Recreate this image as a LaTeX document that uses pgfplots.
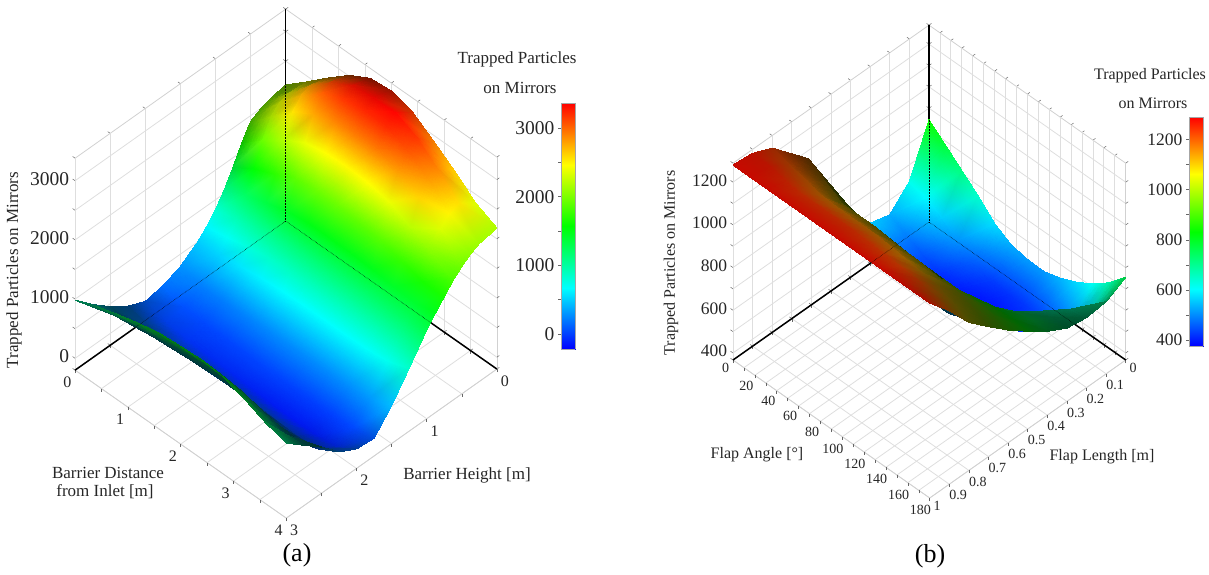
\documentclass[border=0pt]{standalone}
\usepackage{fontspec}
\setmainfont{Liberation Serif}
\usepackage{pgfplots}
\pgfplotsset{compat=1.18}
\definecolor{txt}{gray}{0.15}
\pgfplotsset{
 chart/.style={clip=false,axis lines=box,grid=major,
  grid style={line width=.8pt,black!13},
  axis line style={line width=.8pt,black!18},
  tick style={black!60,line width=.5pt},major tick length=3pt,
  tick align=outside,xtick pos=left,ytick pos=left,ztick pos=left,
  xticklabel pos=left,yticklabel pos=left,
  every tick label/.append style={text=txt}},
 barc/.style={scale only axis,width=14pt,xmin=0,xmax=1,xtick=\empty,view={0}{90},
  ytick pos=left,tick align=outside,major tick length=3pt,
  tick style={black!60,line width=.5pt},axis line style={line width=.6pt,black!35},
  every tick label/.append style={text=txt},
  yticklabel style={font=\fontsize{19.5}{20}\selectfont},
  colormap={bb}{rgb(0cm)=(0,0,1); rgb(1cm)=(0,1,1); rgb(2cm)=(0,1,0); rgb(3cm)=(1,1,0); rgb(4cm)=(1,0,0)}}
}
\begin{document}
\begin{tikzpicture}[x=1pt,y=1pt,
  declare function={clipo(\v)=min(1,max(0,\v));
   cR(\n)=clipo(4*\n-2);
   cG(\n)=min(clipo(4*\n),clipo(4-4*\n));
   cB(\n)=clipo(2-4*\n);}]
\path[use as bounding box] (0,0) rectangle (1209,574);
% ---------------- (a)
\begin{axis}[chart,anchor=origin,at={(285.7pt,364.8pt)},
  x={(-70.2pt,-49.7pt)},y={(52.8pt,-37pt)},z={(0pt,0.0592pt)},
  xmin=0,xmax=3,ymin=0,ymax=4,zmin=-200,zmax=3380,
  xtick={0,0.5,...,3},xticklabels={0,,1,,2,,3},
  ytick={0,0.5,...,4},yticklabels={0,,1,,2,,3,,4},
  ztick={0,500,...,3000},zticklabels={0,,1000,,2000,,3000},
  xticklabel style={font=\fontsize{16}{16}\selectfont},
  yticklabel style={font=\fontsize{16}{16}\selectfont},
  zticklabel style={font=\fontsize{19.5}{20}\selectfont}]
\draw[black,line width=1.5pt] (axis cs:3,0,-200)--(axis cs:0,0,-200)--(axis cs:0,4,-200);
\draw[black,line width=1.5pt] (axis cs:0,0,-200)--(axis cs:0,0,3380);
\addplot3[surf,shader=interp,z buffer=sort,mesh/cols=17,
  mesh/color input=explicit mathparse,
  point meta={symbolic={
   \thisrow{s}*cR((\thisrow{z}+220)/3584),
   \thisrow{s}*cG((\thisrow{z}+220)/3584),
   \thisrow{s}*cB((\thisrow{z}+220)/3584)}}]
 table[row sep=\\]{x y z s\\
0 0 2097 .5\\.25 0 2040 .6\\.375 0 1980 .62\\.5 0 1900 .65\\.625 0 1640 .75\\.75 0 1337 .85\\.875 0 1060 .95\\1 0 830 1\\1.125 0 650 1\\1.25 0 500 1\\1.5 0 290 1\\1.75 0 170 1\\2 0 120 .75\\2.25 0 250 .45\\2.5 0 450 .35\\2.75 0 700 .4\\3 0 982 .5\\
0 .4 2400 .45\\.25 .4 2420 .7\\.375 .4 2380 .78\\.5 .4 2250 .85\\.625 .4 1950 1\\.75 .4 1560 1\\.875 .4 1220 1\\1 .4 940 1\\1.125 .4 710 1\\1.25 .4 520 1\\1.5 .4 230 1\\1.75 .4 60 1\\2 .4 20 .9\\2.25 .4 170 .55\\2.5 .4 420 .3\\2.75 .4 770 .3\\3 .4 1130 .5\\
0 .8 2716 .4\\.25 .8 2800 .8\\.375 .8 2740 .95\\.5 .8 2560 1\\.625 .8 2200 1\\.75 .8 1720 1\\.875 .8 1340 1\\1 .8 1040 1\\1.125 .8 800 1\\1.25 .8 590 1\\1.5 .8 220 1\\1.75 .8 30 1\\2 .8 -30 .95\\2.25 .8 140 .6\\2.5 .8 450 .25\\2.75 .8 860 .3\\3 .8 1240 .5\\
0 1.2 3010 .4\\.25 1.2 3110 .8\\.375 1.2 3030 1\\.5 1.2 2780 1\\.625 1.2 2400 1\\.75 1.2 1900 1\\.875 1.2 1450 1\\1 1.2 1110 1\\1.125 1.2 860 1\\1.25 1.2 640 1\\1.5 1.2 240 1\\1.75 1.2 20 1\\2 1.2 -60 .95\\2.25 1.2 130 .6\\2.5 1.2 480 .25\\2.75 1.2 920 .3\\3 1.2 1340 .5\\
0 1.6 3210 .45\\.25 1.6 3300 .85\\.375 1.6 3180 1\\.5 1.6 2900 1\\.625 1.6 2470 1\\.75 1.6 1950 1\\.875 1.6 1500 1\\1 1.6 1150 1\\1.125 1.6 890 1\\1.25 1.6 670 1\\1.5 1.6 260 1\\1.75 1.6 20 1\\2 1.6 -80 .95\\2.25 1.6 120 .6\\2.5 1.6 510 .25\\2.75 1.6 980 .3\\3 1.6 1420 .5\\
0 2 3246 .6\\.25 2 3340 .9\\.375 2 3230 1\\.5 2 2950 1\\.625 2 2490 1\\.75 2 1950 1\\.875 2 1500 1\\1 2 1170 1\\1.125 2 910 1\\1.25 2 680 1\\1.5 2 270 1\\1.75 2 20 1\\2 2 -100 .95\\2.25 2 110 .6\\2.5 2 530 .25\\2.75 2 1020 .3\\3 2 1450 .5\\
0 2.4 3140 .8\\.25 2.4 3350 1\\.375 2.4 3230 1\\.5 2.4 2950 1\\.625 2.4 2470 1\\.75 2.4 1900 1\\.875 2.4 1490 1\\1 2.4 1180 1\\1.125 2.4 910 1\\1.25 2.4 680 1\\1.5 2.4 270 1\\1.75 2.4 10 1\\2 2.4 -120 .95\\2.25 2.4 100 .6\\2.5 2.4 530 .25\\2.75 2.4 1040 .3\\3 2.4 1470 .5\\
0 2.8 2900 .95\\.25 2.8 3180 1\\.375 2.8 3080 1\\.5 2.8 2830 1\\.625 2.8 2400 1\\.75 2.8 1880 1\\.875 2.8 1480 1\\1 2.8 1180 1\\1.125 2.8 920 1\\1.25 2.8 680 1\\1.5 2.8 270 1\\1.75 2.8 0 1\\2 2.8 -130 .95\\2.25 2.8 80 .6\\2.5 2.8 490 .25\\2.75 2.8 1000 .3\\3 2.8 1440 .5\\
0 3.2 2640 1\\.25 3.2 2900 1\\.375 3.2 2820 1\\.5 3.2 2620 1\\.625 3.2 2220 1\\.75 3.2 1750 1\\.875 3.2 1430 1\\1 3.2 1190 1\\1.125 3.2 930 1\\1.25 3.2 690 1\\1.5 3.2 280 1\\1.75 3.2 0 1\\2 3.2 -120 .9\\2.25 3.2 60 .55\\2.5 3.2 430 .25\\2.75 3.2 890 .3\\3 3.2 1320 .5\\
0 3.6 2350 1\\.25 3.6 2570 1\\.375 3.6 2500 1\\.5 3.6 2340 1\\.625 3.6 2030 1\\.75 3.6 1650 1\\.875 3.6 1410 1\\1 3.6 1210 1\\1.125 3.6 970 1\\1.25 3.6 730 1\\1.5 3.6 320 1\\1.75 3.6 30 1\\2 3.6 -70 .8\\2.25 3.6 90 .5\\2.5 3.6 410 .22\\2.75 3.6 770 .28\\3 3.6 1170 .5\\
0 4 2180 1\\.25 4 2130 1\\.375 4 2060 1\\.5 4 1950 1\\.625 4 1820 1\\.75 4 1650 1\\.875 4 1480 1\\1 4 1300 1\\1.125 4 1080 1\\1.25 4 860 1\\1.5 4 440 1\\1.75 4 100 .85\\2 4 130 .6\\2.25 4 290 .45\\2.5 4 580 .2\\2.75 4 820 .25\\3 4 1067 .5\\
};
\draw[black,densely dotted,line width=.5pt] (axis cs:3,0,-200)--(axis cs:0,0,-200)--(axis cs:0,4,-200);
\draw[black,densely dotted,line width=.5pt] (axis cs:0,0,-200)--(axis cs:0,0,2090);
\end{axis}
% colourbar (a)
\begin{axis}[barc,anchor=south west,at={(561pt,225pt)},height=246pt,ymin=-220,ymax=3364,
  ytick={0,500,...,3000},yticklabels={0,,1000,,2000,,3000}]
\addplot3[surf,shader=interp,mesh/cols=2] coordinates {
 (0,-220,-220)(1,-220,-220)(0,676,676)(1,676,676)(0,1572,1572)(1,1572,1572)(0,2468,2468)(1,2468,2468)(0,3364,3364)(1,3364,3364)};
\end{axis}
% ---------------- (b)
\begin{axis}[chart,anchor=origin,at={(929pt,352pt)},
  x={(-196pt,-138pt)},y={(1.0928pt,-0.7667pt)},z={(0pt,0.2135pt)},
  xmin=0,xmax=1,ymin=0,ymax=180,zmin=367,zmax=1289,
  xtick={0,0.1,...,1.01},xticklabels={0,0.1,0.2,0.3,0.4,0.5,0.6,0.7,0.8,0.9,1},
  ytick={0,10,...,180},yticklabels={0,,20,,40,,60,,80,,100,,120,,140,,160,,180},
  ztick={400,500,...,1200},zticklabels={400,,600,,800,,1000,,1200},
  xticklabel style={font=\fontsize{14}{14}\selectfont,yshift=3pt},
  yticklabel style={font=\fontsize{14}{14}\selectfont,yshift=3pt},
  zticklabel style={font=\fontsize{17.5}{18}\selectfont}]
\draw[black,line width=1.5pt] (axis cs:1,0,367)--(axis cs:0,0,367)--(axis cs:0,180,367);
\draw[black,line width=1.5pt] (axis cs:0,0,367)--(axis cs:0,0,1289);
\addplot3[surf,shader=interp,z buffer=sort,mesh/cols=11,
  mesh/color input=explicit mathparse,
  point meta={symbolic={
   \thisrow{s}*cR((\thisrow{z}-376)/914),
   \thisrow{s}*cG((\thisrow{z}-376)/914),
   \thisrow{s}*cB((\thisrow{z}-376)/914)}}]
 table[row sep=\\]{x y z s\\
0 0 845 1\\.1 0 620 1\\.2 0 530 1\\.3 0 555 1\\.4 0 640 1\\.5 0 780 .3\\.6 0 950 .2\\.7 0 1130 .3\\.8 0 1230 .6\\.9 0 1270 .72\\1 0 1280 .78\\
0 15 780 1\\.1 15 600 1\\.2 15 490 1\\.3 15 490 1\\.4 15 570 1\\.5 15 740 .3\\.6 15 970 .2\\.7 15 1170 .3\\.8 15 1210 .6\\.9 15 1265 .72\\1 15 1280 .78\\
0 30 715 1\\.1 30 560 1\\.2 30 450 1\\.3 30 440 1\\.4 30 520 1\\.5 30 710 .3\\.6 30 960 .2\\.7 30 1120 .3\\.8 30 1190 .6\\.9 30 1250 .72\\1 30 1280 .78\\
0 45 650 1\\.1 45 510 1\\.2 45 420 1\\.3 45 410 1\\.4 45 520 1\\.5 45 680 .3\\.6 45 930 .2\\.7 45 1070 .3\\.8 45 1170 .6\\.9 45 1240 .72\\1 45 1280 .78\\
0 60 575 1\\.1 60 460 1\\.2 60 400 1\\.3 60 395 .6\\.4 60 520 .6\\.5 60 665 .3\\.6 60 930 .2\\.7 60 1070 .3\\.8 60 1165 .6\\.9 60 1240 .72\\1 60 1280 .78\\
0 75 530 1\\.1 75 430 1\\.2 75 385 1\\.3 75 425 .3\\.4 75 520 .3\\.5 75 655 .3\\.6 75 930 .2\\.7 75 1070 .3\\.8 75 1165 .6\\.9 75 1240 .72\\1 75 1280 .78\\
0 90 515 1\\.1 90 420 1\\.2 90 380 1\\.3 90 440 .3\\.4 90 520 .3\\.5 90 650 .3\\.6 90 925 .2\\.7 90 1060 .3\\.8 90 1165 .6\\.9 90 1240 .72\\1 90 1280 .78\\
0 105 512 1\\.1 105 425 1\\.2 105 385 1\\.3 105 460 .3\\.4 105 565 .35\\.5 105 675 .35\\.6 105 920 .2\\.7 105 1055 .3\\.8 105 1160 .6\\.9 105 1235 .72\\1 105 1280 .78\\
0 120 535 1\\.1 120 440 1\\.2 120 415 1\\.3 120 495 .5\\.4 120 590 .45\\.5 120 700 .35\\.6 120 920 .2\\.7 120 1050 .3\\.8 120 1150 .6\\.9 120 1230 .72\\1 120 1280 .78\\
0 135 570 1\\.1 135 470 1\\.2 135 490 .9\\.3 135 560 .7\\.4 135 660 .6\\.5 135 790 .45\\.6 135 920 .35\\.7 135 1040 .3\\.8 135 1140 .5\\.9 135 1225 .7\\1 135 1280 .78\\
0 150 615 1\\.1 150 520 .9\\.2 150 600 .6\\.3 150 680 .4\\.4 150 745 .4\\.5 150 830 .4\\.6 150 925 .35\\.7 150 1040 .3\\.8 150 1130 .4\\.9 150 1220 .6\\1 150 1280 .75\\
0 165 675 .95\\.1 165 600 .7\\.2 165 680 .45\\.3 165 705 .35\\.4 165 760 .4\\.5 165 830 .4\\.6 165 915 .35\\.7 165 1010 .3\\.8 165 1100 .35\\.9 165 1200 .5\\1 165 1280 .7\\
0 180 755 .8\\.1 180 705 .5\\.2 180 695 .35\\.3 180 710 .3\\.4 180 760 .35\\.5 180 825 .4\\.6 180 895 .35\\.7 180 976 .3\\.8 180 1060 .3\\.9 180 1180 .45\\1 180 1280 .7\\
};
\draw[black,densely dotted,line width=.5pt] (axis cs:1,0,367)--(axis cs:0,0,367)--(axis cs:0,180,367);
\draw[black,densely dotted,line width=.5pt] (axis cs:0,0,367)--(axis cs:0,0,845);
\end{axis}
% colourbar (b)
\begin{axis}[barc,anchor=south west,at={(1189pt,228pt)},height=229pt,ymin=376,ymax=1290,
  ytick={400,500,...,1200},yticklabels={400,,600,,800,,1000,,1200},
  yticklabel style={font=\fontsize{17.5}{18}\selectfont}]
\addplot3[surf,shader=interp,mesh/cols=2] coordinates {
 (0,376,376)(1,376,376)(0,604.5,604.5)(1,604.5,604.5)(0,833,833)(1,833,833)(0,1061.5,1061.5)(1,1061.5,1061.5)(0,1290,1290)(1,1290,1290)};
\end{axis}
% ---------------- text
\tikzset{lab/.style={text=txt,inner sep=0pt,font=\fontsize{17}{17}\selectfont},
 labb/.style={text=txt,inner sep=0pt,font=\fontsize{16}{16}\selectfont}}
\node[lab,rotate=90] at (14,304) {Trapped Particles on Mirrors};
\node[lab] at (108,101) {Barrier Distance};
\node[lab] at (105,82) {from Inlet [m]};
\node[lab] at (467,99) {Barrier Height [m]};
\node[lab] at (517,515) {Trapped Particles};
\node[lab] at (520,486) {on Mirrors};
\node[text=black,inner sep=0pt,font=\fontsize{26}{26}\selectfont] at (297,19) {(a)};
\node[labb,rotate=90] at (671,311) {Trapped Particles on Mirrors};
\node[labb] at (757,119) {Flap Angle [°]};
\node[labb] at (1102,117) {Flap Length [m]};
\node[labb] at (1150,498) {Trapped Particles};
\node[labb] at (1153,471) {on Mirrors};
\node[text=black,inner sep=0pt,font=\fontsize{26}{26}\selectfont] at (930,18) {(b)};
\end{tikzpicture}
\end{document}
